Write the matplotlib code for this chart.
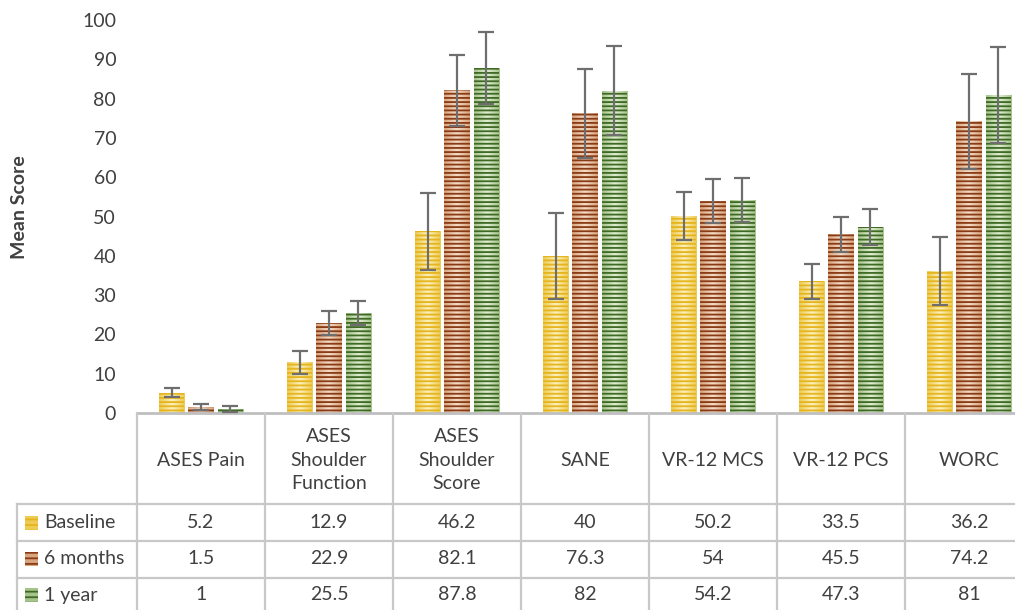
import matplotlib
matplotlib.use("Agg")
import matplotlib.pyplot as plt
import numpy as np
from matplotlib.colors import LinearSegmentedColormap
from matplotlib.patches import Rectangle
from matplotlib.lines import Line2D
import matplotlib.transforms as mtransforms

categories = ["ASES Pain", "ASES\nShoulder\nFunction", "ASES\nShoulder\nScore", "SANE",
              "VR-12 MCS", "VR-12 PCS", "WORC"]
series_names = ["Baseline", "6 months", "1 year"]
baseline = [5.2, 12.9, 46.2, 40, 50.2, 33.5, 36.2]
six_months = [1.5, 22.9, 82.1, 76.3, 54, 45.5, 74.2]
one_year = [1, 25.5, 87.8, 82, 54.2, 47.3, 81]
baseline_err = [1.2, 3.0, 9.9, 11.0, 6.1, 4.5, 8.6]
six_months_err = [0.8, 3.0, 9.0, 11.3, 5.6, 4.5, 12.1]
one_year_err = [0.7, 3.0, 9.2, 11.3, 5.5, 4.5, 12.2]
baseline_lbl = ["5.2", "12.9", "46.2", "40", "50.2", "33.5", "36.2"]
six_months_lbl = ["1.5", "22.9", "82.1", "76.3", "54", "45.5", "74.2"]
one_year_lbl = ["1", "25.5", "87.8", "82", "54.2", "47.3", "81"]
yticks = [0, 10, 20, 30, 40, 50, 60, 70, 80, 90, 100]

values = [baseline, six_months, one_year]
errors = [baseline_err, six_months_err, one_year_err]
labels = [baseline_lbl, six_months_lbl, one_year_lbl]

plt.rcParams['font.family'] = ['Lato', 'DejaVu Sans']
plt.rcParams['hatch.linewidth'] = 1.3
TXT = '#404040'

W, H = 1015, 610
fig = plt.figure(figsize=(W / 100, H / 100), dpi=100)
ax_left, ax_right = 137 / W, 1033 / W
ax_bottom, ax_top = 1 - 413 / H, 1 - 20 / H
ax = fig.add_axes([ax_left, ax_bottom, ax_right - ax_left, ax_top - ax_bottom])

styles = [
    dict(edge='#EDCB55', center='#FBF2C0', stripe='#E6B41C'),
    dict(edge='#D9A57E', center='#F4DCC8', stripe='#8A3A14'),
    dict(edge='#A6C38B', center='#E0EED2', stripe='#3E6A24'),
]

x = np.arange(len(categories))
bw = 0.2
step = 0.23
for i, (vals, errs, st) in enumerate(zip(values, errors, styles)):
    pos = x + (i - 1) * step
    cmap = LinearSegmentedColormap.from_list('g%d' % i, [st['edge'], st['center'], st['edge']])
    grad = np.linspace(0, 1, 64).reshape(1, -1)
    bars = ax.bar(pos, vals, width=bw, facecolor='none', edgecolor=st['stripe'],
                  hatch='----', linewidth=0, zorder=3)
    for r in bars:
        x0, w, h = r.get_x(), r.get_width(), r.get_height()
        im = ax.imshow(grad, extent=[x0, x0 + w, 0, h], aspect='auto', cmap=cmap,
                       zorder=2, interpolation='bicubic')
        im.set_clip_path(r)
    ax.errorbar(pos, vals, yerr=errs, fmt='none', ecolor='#6E6E6E', elinewidth=1.6,
                capsize=6, capthick=1.6, zorder=4)

ax.set_xlim(-0.5, len(categories) - 0.5)
ax.set_ylim(0, 100)
ax.set_yticks(yticks)
ax.tick_params(axis='y', length=0, pad=15, labelsize=14, labelcolor=TXT)
ax.tick_params(axis='x', length=0, labelbottom=False)
for s in ['top', 'right', 'left']:
    ax.spines[s].set_visible(False)
ax.spines['bottom'].set_color('#BFBFBF')
ax.spines['bottom'].set_linewidth(2)
ax.set_aspect('auto')

fig.text(20 / W, 1 - 207 / H, 'Mean Score', rotation=90, ha='center', va='center',
         fontsize=14, fontweight='bold', color=TXT)

# Table (x in data coordinates, y in figure pixel coordinates)
trans = mtransforms.blended_transform_factory(ax.transData, fig.transFigure)
def fy(py):
    return 1 - py / H
grid_c = '#C8C8C8'
grid_lw = 1.6
bounds = np.arange(len(categories) + 1) - 0.5
for b in bounds:
    fig.add_artist(Line2D([b, b], [fy(413), fy(615)], transform=trans, color=grid_c, lw=grid_lw))
row_lines = [504, 541, 578]
for ry in row_lines:
    fig.add_artist(Line2D([17 / W, 1.0], [fy(ry), fy(ry)], transform=fig.transFigure,
                          color=grid_c, lw=grid_lw))
fig.add_artist(Line2D([17 / W, 17 / W], [fy(504), fy(615)], transform=fig.transFigure,
                      color=grid_c, lw=grid_lw))

for j, cat in enumerate(categories):
    fig.text(x[j], fy(460), cat, transform=trans, ha='center', va='center', fontsize=14,
             color=TXT, linespacing=1.45)

row_centers = [523, 559, 595]
for i, (name, lbls, st) in enumerate(zip(series_names, labels, styles)):
    yc = row_centers[i]
    for j, l in enumerate(lbls):
        fig.text(x[j], fy(yc), l, transform=trans, ha='center', va='center', fontsize=14,
                 color=TXT)
    fig.text(44 / W, fy(yc), name, ha='left', va='center', fontsize=14, color=TXT)
    sq = Rectangle((25 / W, fy(yc + 7)), 13 / W, 14 / H, transform=fig.transFigure,
                   facecolor=st['edge'], edgecolor=st['stripe'], hatch='---', linewidth=0)
    fig.add_artist(sq)

fig.savefig('out.png', dpi=100)
